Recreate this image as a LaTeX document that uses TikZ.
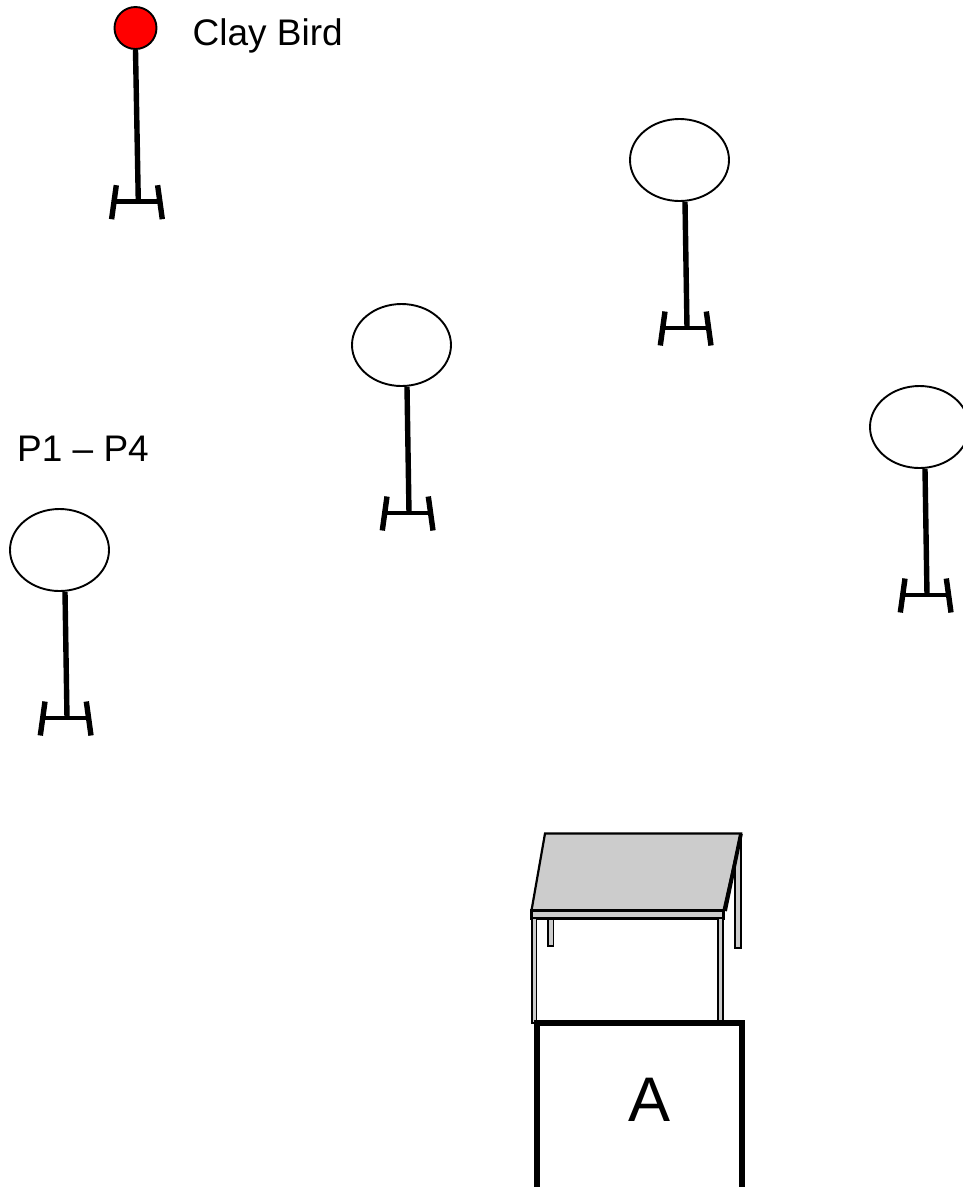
\documentclass[tikz,border=0pt]{standalone}
\usepackage{fontspec}
\setmainfont{Liberation Sans}
\usetikzlibrary{shapes.geometric}
\definecolor{tablegray}{HTML}{CCCCCC}
\tikzset{
	head/.style={draw,ellipse,fill=white,line width=1.9pt,inner sep=0pt,minimum width=99pt,minimum height=82pt},
	bird/.style={draw,circle,fill=red,line width=1.9pt,inner sep=0pt,minimum size=42pt},
	pole/.style={line width=5.4pt},
	foot/.style={line width=5.4pt},
	leg/.style={draw,fill=tablegray,line width=1.9pt},
	label/.style={font=\fontsize{37pt}{40pt}\selectfont,anchor=base west,inner sep=0pt}
}
\begin{document}
\begin{tikzpicture}[x=1pt,y=-1pt]
	\useasboundingbox (0,0) rectangle (963,1187);
	\node[bird] (birdhead) at (135.5,28) {};
	\coordinate (basebird) at (138.3,201.7);
	\draw[pole] (birdhead.south) -- (basebird);
	\node[label] (birdlabel) at (192.5,45) {Clay Bird};
	\node[label] (plabel) at (17,461) {P1 – P4};
	\foreach \n/\x/\y in {1/59.5/550,2/401.5/345,3/679.5/160,4/919.5/427}{
		\node[head] (P\n) at (\x,\y) {};
		\begin{scope}[shift={(\x,\y)}]
			\coordinate (baseP\n) at (7.5,168);
		\end{scope}
		\draw[pole] ([xshift=5.5pt]P\n.south) -- (baseP\n);
	}
	% chan de
	\foreach \b in {basebird,baseP1,baseP2,baseP3,baseP4}{
		\begin{scope}[shift={(\b)}]
			\draw[foot] (-22,-16.5) -- (-26.7,17.5);
			\draw[foot] (19.3,-16.5) -- (24,17.5);
			\draw[line width=4.6pt] (-24,0) -- (21.5,0);
		\end{scope}
	}
	% ban
	\path
	(545,833.5) coordinate (T1)
	(741,833.5) coordinate (T2)
	(723.5,910.5) coordinate (T3)
	(531.5,910.5) coordinate (T4)
	(723.5,918.5) coordinate (T5)
	(531.5,918.5) coordinate (T6);
	\draw[leg] (547.8,918) rectangle (553.5,946);
	\draw[leg] (734.8,833.5) rectangle (740.8,948);
	\draw[fill=tablegray,line width=2.2pt] (T1)--(T2)--(T3)--(T4)--cycle;
	\draw[line width=3.8pt] (T2)--(725,911);
	\draw[fill=tablegray,line width=2.2pt] (T4)--(T3)--(T5)--(T6)--cycle;
	\draw[leg] (532,918.5) rectangle (536.5,1023);
	\draw[leg] (718,918.5) rectangle (723,1023);
	% o A
	\node[draw,line width=6pt,inner sep=0pt,minimum width=204.5pt,minimum height=167.5pt,anchor=north west] (boxA) at (534,1020) {};
	\node[anchor=base,inner sep=0pt,font=\fontsize{63pt}{70pt}\selectfont] (letterA) at (649.3,1121.7) {A};
\end{tikzpicture}
\end{document}
